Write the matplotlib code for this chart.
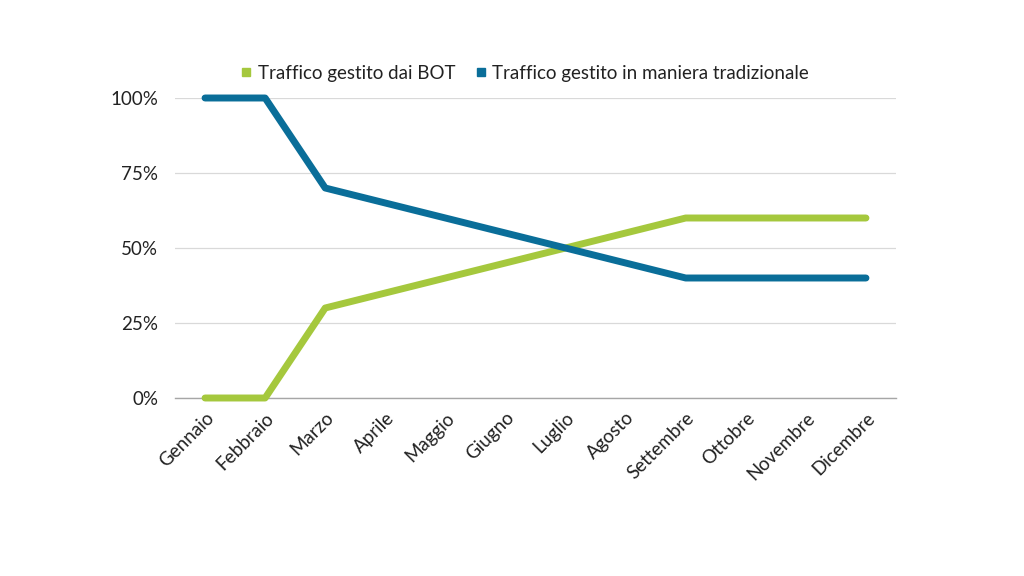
import matplotlib
matplotlib.use("Agg")
import matplotlib.pyplot as plt
from matplotlib.ticker import PercentFormatter
from matplotlib.lines import Line2D

plt.rcParams['font.family'] = ['Lato', 'DejaVu Sans']

mesi = ["Gennaio", "Febbraio", "Marzo", "Aprile", "Maggio", "Giugno", "Luglio",
        "Agosto", "Settembre", "Ottobre", "Novembre", "Dicembre"]
bot = [0, 0, 30, 35, 40, 45, 50, 55, 60, 60, 60, 60]
tradizionale = [100, 100, 70, 65, 60, 55, 50, 45, 40, 40, 40, 40]

green = "#A5C83D"
blue = "#0A6E99"

fig = plt.figure(figsize=(10.24, 5.76), dpi=100)
ax = fig.add_axes([175/1024, 1-398/576, (896-175)/1024, 300/576])

x = range(len(mesi))
ax.plot(x, bot, color=green, lw=5, solid_capstyle='round', solid_joinstyle='round', zorder=3, clip_on=False)
ax.plot(x, tradizionale, color=blue, lw=5, solid_capstyle='round', solid_joinstyle='round', zorder=3, clip_on=False)

ax.set_xlim(-0.5, len(mesi) - 0.5)
ax.set_ylim(0, 100)
ax.set_yticks([0, 25, 50, 75, 100])
ax.yaxis.set_major_formatter(PercentFormatter(decimals=0))
ax.set_xticks(list(x))
ax.set_xticklabels(mesi, rotation=45, ha='right', rotation_mode='anchor', fontsize=13.5, color="#222222")
ax.tick_params(axis='y', labelsize=13.5, labelcolor="#222222", length=0, pad=12)
ax.tick_params(axis='x', length=0, pad=8)
ax.grid(axis='y', color="#D9D9D9", lw=0.9)
ax.set_axisbelow(True)
for s in ['top', 'right', 'left']:
    ax.spines[s].set_visible(False)
ax.spines['bottom'].set_color("#A6A6A6")
ax.spines['bottom'].set_linewidth(1.0)

handles = [Line2D([], [], marker='s', ls='none', color=green, markersize=6),
           Line2D([], [], marker='s', ls='none', color=blue, markersize=6)]
fig.legend(handles, ["Traffico gestito dai BOT", "Traffico gestito in maniera tradizionale"],
           loc='center', bbox_to_anchor=(524/1024, 1-73/576), ncol=2, frameon=False,
           fontsize=13.5, handletextpad=0.2, columnspacing=1.0, handlelength=0.8,
           labelcolor="#222222")

fig.savefig("out.png", dpi=100, facecolor="white")
